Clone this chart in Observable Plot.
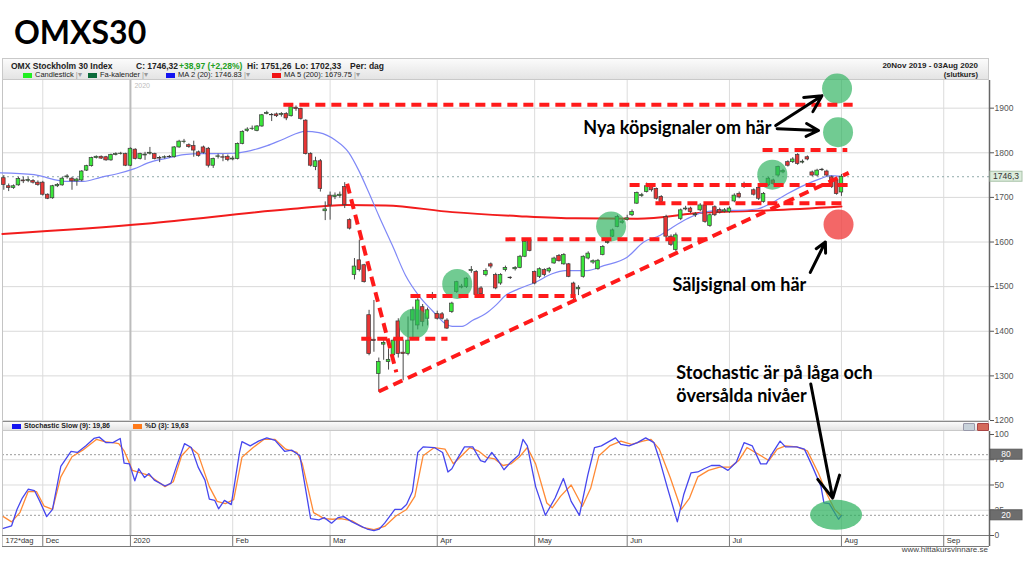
<!DOCTYPE html>
<html><head><meta charset="utf-8">
<script src="https://cdn.jsdelivr.net/npm/d3@7"></script>
<script src="https://cdn.jsdelivr.net/npm/@observablehq/plot@0.6"></script>
<style>
body{margin:0;width:1024px;height:576px;background:#fff;position:relative;overflow:hidden;font-family:"Liberation Sans",Arial,sans-serif;color:#222;}
#title{position:absolute;left:14px;top:12px;font:bold 32px Lato,"Open Sans",sans-serif;color:#000;}
.band{position:absolute;left:2px;width:987px;background:linear-gradient(#fbfbfb,#e4e4e4);border:1px solid #c9c9c9;box-sizing:border-box;}
.band span{position:absolute;white-space:nowrap;}
.sw{display:inline-block;width:9px;height:5px;margin-right:3px;vertical-align:middle;}
#main,#lower{position:absolute;left:0;}
#main{top:80px;} #lower{top:431px;}
#src{position:absolute;right:36px;top:545px;font-size:8px;color:#444;}
.icon{position:absolute;top:423px;width:10px;height:6px;border-radius:1px;}
</style></head>
<body>
<div id="title">OMXS30</div>
<div class="band" style="top:58px;height:22px;">
  <span style="left:8px;top:2px;font-size:8.5px;font-weight:bold">OMX Stockholm 30 Index</span>
  <span style="left:133px;top:2px;font-size:8.5px;font-weight:bold">C: 1746,32</span>
  <span style="left:176px;top:2px;font-size:8.5px;font-weight:bold;color:#22a022">+38,97 (+2,28%)</span>
  <span style="left:244px;top:2px;font-size:8.5px;font-weight:bold">Hi: 1751,26</span>
  <span style="left:292px;top:2px;font-size:8.5px;font-weight:bold">Lo: 1702,33</span>
  <span style="left:347px;top:2px;font-size:8.5px;font-weight:bold">Per: dag</span>
  <span style="left:20px;top:11px;font-size:7.5px;"><i class="sw" style="background:#22ee22"></i>Candlestick <span style="position:static;color:#999">|▾</span></span>
  <span style="left:85px;top:11px;font-size:7.5px;"><i class="sw" style="background:#0b6b3a"></i>Fa-kalender <span style="position:static;color:#999">|▾</span></span>
  <span style="left:163px;top:11px;font-size:7.5px;"><i class="sw" style="background:#1414f0"></i>MA 2 (20): 1746.83 <span style="position:static;color:#999">|▾</span></span>
  <span style="left:269px;top:11px;font-size:7.5px;"><i class="sw" style="background:#f01414"></i>MA 5 (200): 1679.75 <span style="position:static;color:#999">|▾</span></span>
  <span style="right:10px;top:2px;font-size:8px;font-weight:bold;text-align:right">20Nov 2019 - 03Aug 2020</span>
  <span style="right:10px;top:11px;font-size:7.5px;font-weight:bold;text-align:right">(slutkurs)</span>
</div>
<div class="band" style="top:420px;height:11px;border-top:2px solid #8a8a8a;">
  <span style="left:9px;top:0px;font-size:7px;font-weight:bold"><i class="sw" style="background:#1414f0"></i>Stochastic Slow (9): 19,86</span>
  <span style="left:130px;top:0px;font-size:7px;font-weight:bold"><i class="sw" style="background:#ff7a1a"></i>%D (3): 19,63</span>
</div>
<div class="icon" style="left:963px;background:#c8d2da;border:1px solid #99a;"></div>
<div class="icon" style="left:977px;background:#d46a5a;border:1px solid #a44;"></div>
<div id="main"></div>
<div id="lower"></div>
<div id="src">www.hittakursvinnare.se</div>
<script>
// ---- daily OHLC (trading-day index 0 = 20 Nov 2019 ... 172 = 3 Aug 2020)
const open = [
1743,1725,1721,1727,1738,1737,1737,1733,1733,1706,
1698,1725,1727,1745,1742,1736,1738,1760,1770,1788,
1791,1790,1783,1795,1797,1797,1771,1807,1786,1794,
1798,1797,1788,1789,1790,1790,1812,1824,1817,1815,
1801,1812,1809,1771,1791,1790,1791,1785,1786,1820,
1849,1853,1849,1859,1887,1884,1886,1885,1887,1882,
1901,1898,1872,1797,1768,1781,1669,1704,1701,1703,
1723,1649,1526,1559,1548,1436,1381,1304,1370,1331,
1346,1422,1352,1349,1424,1413,1454,1428,1478,1439,
1438,1424,1443,1488,1498,1499,1535,1533,1496,1526,
1550,1526,1507,1537,1520,1539,1542,1567,1604,1533,
1522,1537,1534,1552,1569,1550,1550,1507,1494,1522,
1563,1554,1539,1571,1598,1612,1634,1643,1650,1660,
1686,1703,1712,1723,1719,1701,1656,1612,1582,1652,
1673,1675,1660,1671,1682,1636,1678,1672,1668,1667,
1691,1708,1723,1726,1716,1721,1690,1727,1738,1749,
1756,1779,1779,1795,1778,1790,1756,1749,1761,1758,
1745,1738,1711];
const high = [
1749,1730,1728,1745,1745,1744,1740,1737,1736,1708,
1727,1731,1745,1751,1745,1743,1760,1772,1790,1793,
1793,1792,1797,1800,1801,1799,1811,1809,1799,1801,
1812,1799,1792,1793,1794,1814,1828,1830,1820,1826,
1804,1815,1812,1788,1797,1796,1795,1792,1822,1849,
1856,1860,1861,1886,1893,1888,1889,1890,1890,1906,
1905,1900,1874,1800,1790,1785,1690,1712,1710,1712,
1733,1652,1563,1604,1550,1447,1469,1340,1379,1360,
1383,1428,1380,1432,1454,1473,1460,1452,1487,1445,
1442,1428,1465,1512,1505,1520,1545,1536,1500,1540,
1553,1530,1529,1546,1522,1545,1570,1604,1606,1535,
1542,1540,1543,1566,1572,1574,1552,1510,1502,1569,
1578,1560,1561,1592,1605,1629,1660,1650,1660,1672,
1712,1709,1732,1728,1721,1704,1660,1616,1620,1674,
1680,1678,1666,1686,1685,1663,1681,1676,1675,1679,
1708,1712,1734,1731,1719,1724,1711,1745,1741,1770,
1763,1782,1789,1798,1784,1793,1759,1763,1765,1761,
1748,1741,1751.26];
const low = [
1716,1713,1718,1725,1731,1733,1730,1725,1703,1695,
1696,1722,1725,1741,1716,1725,1735,1758,1768,1786,
1785,1781,1781,1793,1795,1769,1769,1784,1784,1783,
1795,1784,1778,1786,1788,1788,1810,1820,1810,1790,
1790,1797,1766,1765,1786,1780,1780,1782,1784,1818,
1846,1850,1847,1857,1885,1870,1879,1880,1872,1880,
1893,1873,1795,1768,1760,1712,1648,1649,1695,1698,
1675,1627,1515,1533,1508,1345,1353,1263,1335,1313,
1340,1340,1289,1345,1379,1403,1410,1412,1470,1425,
1425,1404,1440,1485,1495,1496,1530,1475,1478,1522,
1540,1493,1503,1533,1516,1535,1540,1565,1578,1504,
1518,1522,1530,1550,1555,1548,1520,1470,1480,1519,
1560,1550,1537,1569,1595,1610,1632,1640,1647,1657,
1684,1700,1710,1712,1694,1687,1608,1590,1578,1648,
1670,1664,1655,1668,1642,1633,1657,1663,1665,1664,
1688,1697,1720,1723,1703,1693,1687,1724,1727,1746,
1753,1768,1776,1772,1775,1782,1746,1746,1758,1746,
1720,1705,1702.33];
const close = [
1728,1721,1725,1741,1736,1739,1733,1728,1706,1697,
1725,1728,1742,1747,1736,1740,1758,1770,1788,1791,
1787,1783,1795,1797,1798,1771,1809,1786,1797,1796,
1800,1786,1787,1790,1791,1812,1825,1825,1813,1805,
1793,1800,1771,1786,1792,1789,1784,1787,1820,1847,
1852,1854,1859,1884,1889,1885,1882,1887,1877,1902,
1898,1876,1797,1771,1781,1719,1673,1682,1704,1706,
1683,1630,1545,1537,1510,1349,1378,1331,1374,1336,
1379,1349,1349,1379,1447,1469,1421,1447,1481,1428,
1428,1406,1462,1510,1500,1518,1537,1481,1483,1535,
1545,1496,1526,1542,1519,1542,1567,1600,1580,1507,
1539,1526,1540,1563,1557,1571,1522,1474,1497,1567,
1574,1557,1558,1589,1600,1626,1656,1646,1653,1667,
1710,1705,1725,1716,1697,1690,1612,1593,1615,1671,
1675,1667,1662,1682,1645,1660,1660,1666,1671,1675,
1704,1700,1730,1728,1706,1697,1708,1742,1730,1768,
1759,1771,1785,1775,1780,1785,1749,1760,1762,1749,
1723,1707.35,1746.32];
const lastClose = 1746.32;

// moving averages (day index, value)
const ma20Day = [-0.7,6.2,7.9,10.3,13.0,16.4,19.9,23.3,26.7,30.1,33.6,37.0,40.4,43.8,47.2,50.7,54.1,57.5,61.9,64.7,68.1,70.8,72.9,74.9,77.0,79.8,82.5,85.2,88.0,90.7,92.1,94.1,96.2,98.9,101.0,103.0,105.7,109.2,112.6,115.3,119.8,123.2,128.0,131.4,134.8,136.9,140.3,143.7,147.2,150.6,154.7,157.4,160.9,164.3,167.7,169.7,172];
const ma20Val = [1755,1751,1747,1740,1736,1736,1745,1753,1764,1779,1788,1796,1798,1798,1799,1805,1816,1831,1848,1845,1828,1801,1760,1712,1659,1592,1525,1480,1446,1417,1411,1411,1424,1439,1458,1480,1495,1510,1529,1536,1536,1547,1566,1600,1615,1630,1652,1667,1671,1671,1674,1686,1708,1727,1742,1749,1746.83];
const ma200Day = [-0.3,29.1,58.9,70.2,78.4,92.1,105.8,117.4,130.1,143.8,157.4,172];
const ma200Val = [1618,1641,1674,1683,1682,1667,1658,1653,1652,1666,1671,1679.75];

// stochastic slow %K and %D
const kDay = [-0.1,1.6,2.7,3.8,5.0,6.3,7.4,8.8,10.0,11.7,13.8,15.1,16.8,18.5,19.6,21.0,22.4,23.9,24.7,25.8,26.9,27.7,28.9,29.8,30.9,33.1,34.3,35.4,37.1,38.5,39.9,41.3,42.2,43.3,44.1,45.3,46.7,48.4,48.9,50.6,52.3,54.0,55.7,57.7,59.1,60.8,63.0,64.7,65.8,67.3,68.6,69.8,71.5,73.2,74.6,76.0,77.1,78.2,80.3,81.6,82.7,83.9,85.0,86.1,88.4,90.1,91.2,92.0,92.9,94.6,96.3,97.9,98.8,100.2,101.6,102.7,104.1,105.8,106.6,107.5,109.2,111.2,113.2,114.9,116.5,118.2,119.9,121.3,122.7,124.4,125.6,126.7,128.4,130.1,131.8,133.5,134.6,136.3,138.3,139.6,141.1,142.5,143.8,145.3,147.0,148.7,150.4,152.0,153.7,155.4,156.6,157.7,159.4,160.5,162.8,164.4,166.1,167.8,168.4,169.5,171.4,172];
const kVal = [7.1,9.6,25.8,37.1,45.8,44.5,33.8,18.7,25.8,68.4,83.2,82.2,88.7,96.1,97.4,91.9,91.9,96.1,71.6,70.9,54.2,66.1,57.4,61.3,54.8,49.0,51.6,67.7,90.9,87.1,67.7,54.8,36.1,34.8,26.4,34.8,30.6,82.2,92.9,88.7,93.5,96.7,94.2,83.2,84.5,79.0,16.7,15.5,17.7,12.2,17.7,18.7,13.5,9.6,6.4,4.8,6.4,12.2,25.8,25.8,30.6,43.5,82.2,87.7,87.1,82.2,62.9,66.1,74.2,87.7,87.7,74.2,72.6,82.2,73.5,65.1,72.6,80.0,95.1,88.7,48.4,20.0,37.1,56.4,33.8,20.0,59.6,87.1,88.7,93.5,96.7,90.3,88.7,91.9,96.7,91.9,75.8,46.7,13.5,40.3,61.9,62.9,66.1,69.3,69.3,64.5,72.6,91.9,88.7,70.9,70.9,80.6,93.5,87.7,87.7,85.5,67.7,48.4,32.2,31.6,16.1,19.86];
const dDay = [-0.1,1.6,3.3,5.0,6.7,8.3,10.0,11.7,14.0,16.2,19.0,20.7,22.4,23.6,24.7,26.4,28.1,29.8,31.4,33.1,34.8,36.5,38.2,39.9,42.2,43.8,45.5,47.2,48.9,51.2,53.4,55.7,57.9,60.2,61.3,63.6,65.8,67.5,69.2,71.5,73.7,76.0,78.2,80.5,82.7,84.4,86.1,88.4,90.6,92.3,94.0,95.7,97.4,99.1,100.8,102.5,104.1,105.8,107.5,109.2,111.5,112.6,114.3,116.5,118.8,120.5,122.2,124.4,126.7,128.9,131.2,132.9,134.6,136.8,139.1,140.8,142.5,144.7,147.0,149.2,150.9,152.6,154.9,157.1,158.8,160.5,162.8,165.0,167.3,169.0,170.6,172];
const dVal = [18.7,13.5,22.6,43.5,43.5,29.0,25.8,58.0,78.0,84.5,95.1,92.9,91.9,90.9,83.8,64.5,61.9,59.6,54.2,48.4,53.2,79.0,87.7,80.6,48.4,33.8,31.6,35.5,77.4,87.1,95.1,95.1,85.5,82.2,70.9,22.6,16.7,16.1,16.7,14.5,8.0,5.8,9.0,19.3,25.8,38.7,79.0,87.1,85.5,71.0,79.0,87.1,83.8,77.4,75.8,69.3,70.9,77.4,87.1,70.9,32.2,27.4,38.7,50.0,29.0,46.7,79.0,88.7,93.5,90.3,93.5,95.1,85.5,58.0,25.8,37.1,58.0,64.5,67.7,67.7,74.2,87.1,80.6,74.2,85.5,88.7,87.7,83.8,61.3,41.1,25.8,19.63];

// axes
const priceTicks = [1200,1300,1400,1500,1600,1700,1800,1900];
const stochTicks = [0,25,50,75,100];
const stochLevels = [20,80];
const monthDays = [8,26,47,67,89,109,128,149,172,193];
const monthLabels = ["Dec","2020","Feb","Mar","Apr","May","Jun","Jul","Aug","Sep"];
const periodLabel = "172*dag";

// annotations (day index, price)
const dashX1 = [57.4,155.8,128.5,133.8,103.0,83.5,73.4,70.5,77.0];
const dashY1 = [1907.6,1806,1728,1687,1606,1479,1383,1730.5,1265];
const dashX2 = [174.3,173.2,173.9,173.2,145.7,117.4,91.1,80.6,173.5];
const dashY2 = [1907.6,1806,1728,1687,1606,1479,1383,1308,1755];
const greenX = [84.2,93.1,124.7,157.8,171.1,171.3];
const greenY = [1417,1506,1635,1751,1944,1846];
const redX = [171.4], redY = [1639];
const arrowX1 = [158.5,158.8,165.6], arrowY1 = [1861,1854,1532];
const arrowX2 = [168.0,167.3,168.7], arrowY2 = [1928,1850,1600];
const noteText = ["Nya köpsignaler om här","Säljsignal om här","Stochastic är på låga och","översålda nivåer"];
const noteX = [119.0,137.3,138.1,138.1];
const noteY = [1854.5,1502.6,1305,1254];
const stochArrow = {x1:165.7, y1:150, x2:170.2, y2:37};
const stochSpot = {x:171, y:20};

const xDomain = [-0.27, 202.4];
const candles = open.map((o,i)=>({i,o,h:high[i],l:low[i],c:close[i]}));
const rise = candles.filter(d=>d.c>=d.o), fall = candles.filter(d=>d.c<d.o);
const zip = (a,b)=>a.map((x,k)=>({x,y:b[k]}));
const dashes = dashX1.map((x,k)=>({x1:x,y1:dashY1[k],x2:dashX2[k],y2:dashY2[k]}));
const arrows = arrowX1.map((x,k)=>({x1:x,y1:arrowY1[k],x2:arrowX2[k],y2:arrowY2[k]}));
const notes = noteText.map((t,k)=>({t,x:noteX[k],y:noteY[k]}));
const baseStyle = {background:"transparent",overflow:"visible",fontFamily:"'Liberation Sans',Arial,sans-serif",fontSize:"8.5px",color:"#555"};
const noteFont = {fontFamily:"Lato, 'Open Sans', sans-serif", fontWeight:"bold", fontSize:18, fill:"#000", textAnchor:"start"};
const plain = d=>String(d);

const main = Plot.plot({
  width:1024, height:341, marginLeft:2, marginRight:35, marginTop:0, marginBottom:1,
  x:{domain:xDomain, axis:null}, y:{domain:[1200,1962], axis:null},
  style: baseStyle,
  marks:[
    Plot.ruleY(priceTicks, {stroke:"#d9d9d9"}),
    Plot.ruleX(monthDays.filter(d=>d!==26), {stroke:"#dcdcdc"}),
    Plot.ruleX([26], {stroke:"#bcbcbc", strokeWidth:2}),
    Plot.ruleX([xDomain[0]], {stroke:"#c4c4c4"}),
    Plot.ruleY([lastClose], {stroke:"#8fa9a9", strokeDasharray:"2,3"}),
    Plot.text([26], {x:d=>d, y:1962, text:()=>"2020", dx:4, dy:5, textAnchor:"start", fill:"#bdbdbd", fontSize:7}),
    Plot.line(zip(ma200Day,ma200Val), {x:"x", y:"y", stroke:"#f21c1c", strokeWidth:2, curve:"monotone-x"}),
    Plot.line(zip(ma20Day,ma20Val), {x:"x", y:"y", stroke:"#7f88f7", strokeWidth:1.2, curve:"monotone-x"}),
    Plot.ruleX(candles, {x:"i", y1:"l", y2:"h", stroke:"#4a4a4a", strokeWidth:1}),
    Plot.rect(rise, {x1:d=>d.i-0.37, x2:d=>d.i+0.37, y1:"o", y2:"c", fill:"#3ae83a", stroke:"#3a3a3a", strokeWidth:0.7}),
    Plot.rect(fall, {x1:d=>d.i-0.37, x2:d=>d.i+0.37, y1:"o", y2:"c", fill:"#e83434", stroke:"#3a3a3a", strokeWidth:0.7}),
    Plot.dot(zip(greenX,greenY), {x:"x", y:"y", r:15, fill:"#2db25e", fillOpacity:0.68}),
    Plot.dot(zip(redX,redY), {x:"x", y:"y", r:15, fill:"#f04545", fillOpacity:0.82}),
    Plot.link(dashes, {x1:"x1", y1:"y1", x2:"x2", y2:"y2", stroke:"#ff1a1a", strokeWidth:4, strokeDasharray:"10,6"}),
    Plot.arrow(arrows, {x1:"x1", y1:"y1", x2:"x2", y2:"y2", stroke:"#000", strokeWidth:3, headLength:12, headAngle:55}),
    Plot.text(notes, {x:"x", y:"y", text:"t", ...noteFont}),
    Plot.ruleX([xDomain[1]], {stroke:"#666", strokeWidth:1.5}),
    Plot.axisY(priceTicks, {anchor:"right", tickSize:4, tickPadding:1, fontSize:8.5, color:"#555", tickFormat:plain})
  ]
});
document.getElementById("main").appendChild(main);

const lower = Plot.plot({
  width:1024, height:116, marginLeft:2, marginRight:35, marginTop:0, marginBottom:12,
  x:{domain:xDomain, axis:null}, y:{domain:[0,102.97], axis:null},
  style: baseStyle,
  marks:[
    Plot.ruleY([25,50,75], {stroke:"#dcdcdc"}),
    Plot.ruleY(stochLevels, {stroke:"#9a9a9a", strokeDasharray:"2,2"}),
    Plot.ruleX(monthDays.filter(d=>d!==26), {y1:0, y2:102.97, stroke:"#dcdcdc"}),
    Plot.ruleX([26], {y1:0, y2:102.97, stroke:"#bcbcbc", strokeWidth:2}),
    Plot.ruleX([xDomain[0]], {y1:-10.9, y2:102.97, stroke:"#c4c4c4"}),
    Plot.line(zip(dDay,dVal), {x:"x", y:"y", stroke:"#ff8a35", strokeWidth:1.3}),
    Plot.line(zip(kDay,kVal), {x:"x", y:"y", stroke:"#4747ee", strokeWidth:1.3}),
    Plot.ruleY([0,-10.9], {stroke:"#7a7a7a"}),
    Plot.ruleX(monthDays, {y1:0, y2:-10.9, stroke:"#7a7a7a"}),
    Plot.text(monthDays, {x:d=>d, y:-5.4, text:(d,k)=>monthLabels[k], dx:3, textAnchor:"start", fontSize:7.5, fill:"#333"}),
    Plot.text([periodLabel], {x:xDomain[0], y:-5.4, text:d=>d, dx:3, textAnchor:"start", fontSize:7.5, fill:"#333"}),
    Plot.ruleX([xDomain[1]], {y1:-10.9, y2:102.97, stroke:"#666", strokeWidth:1.5}),
    Plot.axisY(stochTicks, {anchor:"right", tickSize:4, tickPadding:1, fontSize:8.5, color:"#555", tickFormat:plain}),
    Plot.arrow([stochArrow], {x1:"x1", y1:"y1", x2:"x2", y2:"y2", stroke:"#000", strokeWidth:3, headLength:12, headAngle:55})
  ]
});
document.getElementById("lower").appendChild(lower);

// value boxes on the right axis and the highlight ellipse, positioned through the plots' scales
function valueBox(svg, xs, ys, v, label, fill, stroke, color){
  const g = d3.select(svg).append("g");
  const x = xs.apply(xDomain[1]) + 1, y = ys.apply(v);
  g.append("rect").attr("x", x).attr("y", y-5).attr("width", 32).attr("height", 10).attr("fill", fill).attr("stroke", stroke);
  g.append("text").attr("x", x+16).attr("y", y+3).attr("text-anchor","middle").attr("font-size", 8.5).attr("fill", color).text(label);
}
valueBox(main, main.scale("x"), main.scale("y"), lastClose, "1746,3", "#dcecdc", "#a9c2a9", "#333");
const lx = lower.scale("x"), ly = lower.scale("y");
stochLevels.forEach(v=>valueBox(lower, lx, ly, v, String(v), "#6d6d6d", "#5a5a5a", "#fff"));
d3.select(lower).insert("ellipse", "g[aria-label=arrow]")
  .attr("cx", lx.apply(stochSpot.x)).attr("cy", ly.apply(stochSpot.y))
  .attr("rx", 26).attr("ry", 15).attr("fill", "#2db25e").attr("fill-opacity", 0.72);
</script>
</body></html>
